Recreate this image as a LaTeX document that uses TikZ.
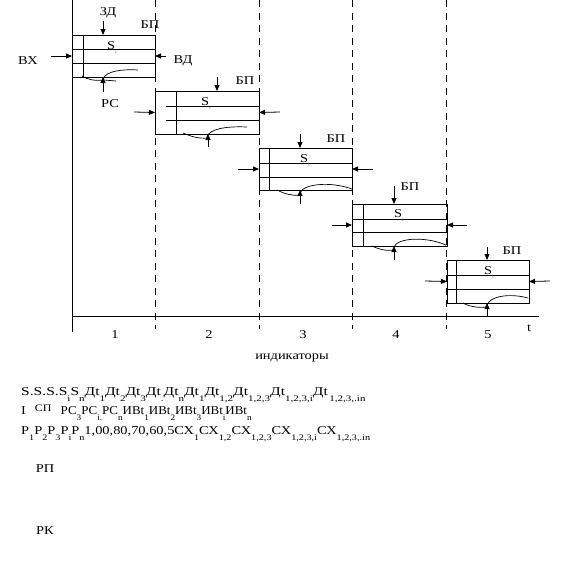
\documentclass[tikz,border=0pt]{standalone}
\usepackage{fontspec}
\setmainfont[FakeStretch=1.2]{Liberation Serif}
\usetikzlibrary{arrows.meta,positioning,calc}

\newcommand{\lo}[1]{\raisebox{-6pt}{\fontsize{8.5}{8.5}\selectfont #1}}
\newcommand{\Si}{S\raisebox{-4pt}{\textcolor{gray}{\fontsize{5}{5}\selectfont i}}}

\begin{document}
\begin{tikzpicture}[x=1pt, y=-1pt,
    lbl/.style={font=\fontsize{12}{13}\selectfont, inner sep=0pt},
    box/.style={draw, line width=0.8pt, anchor=north west, inner sep=0pt, outer sep=0pt},
    arr/.style={-{Triangle[length=6pt,width=5pt]}, line width=0.8pt},
    divider/.style={dash pattern=on 7pt off 5.5pt, line width=0.8pt},
    txt/.style={font=\fontsize{12}{13}\selectfont, inner sep=0pt, anchor=base west}
]
\useasboundingbox (0,0) rectangle (561,565);

% time axis and stage borders
\draw[line width=0.8pt] (72,0) -- (72,332);
\draw[line width=0.8pt] (72,316) -- (539,316);
\draw[divider] (155,0) -- (155,329);
\draw[divider] (259,0) -- (259,329);
\draw[divider] (352,0) -- (352,329);
\draw[divider] (446,0) -- (446,329);

% stage boxes
\node[box, minimum width=83pt, minimum height=42pt] (box1) at (72,35) {};
\node[box, minimum width=104pt, minimum height=43pt, below right=14pt and 0pt of box1] (box2) {};
\node[box, minimum width=93pt, minimum height=42pt, below right=14pt and 0pt of box2] (box3) {};
\node[box, minimum width=95pt, minimum height=42pt, below right=14pt and 0pt of box3] (box4) {};
\node[box, minimum width=82pt, minimum height=43pt, below right=14pt and 0pt of box4] (box5) {};

% rows inside the boxes
\draw[line width=0.8pt] ($(box1.north west)+(0,14)$) -- ($(box1.north east)+(0,14)$);
\draw[line width=0.8pt] ($(box1.north west)+(0,28)$) -- ($(box1.north east)+(0,28)$);
\draw[line width=0.8pt] ($(box1.north west)+(11,0)$) -- ($(box1.south west)+(11,0)$);
\draw[line width=0.8pt] ($(box2.north west)+(11,15)$) -- ($(box2.north east)+(0,15)$);
\draw[line width=0.8pt] ($(box2.north west)+(11,29)$) -- ($(box2.north east)+(0,29)$);
\draw[line width=0.8pt] ($(box2.north west)+(21,0)$) -- ($(box2.south west)+(21,0)$);
\draw[line width=0.8pt] ($(box3.north west)+(0,15)$) -- ($(box3.north east)+(0,15)$);
\draw[line width=0.8pt] ($(box3.north west)+(0,29)$) -- ($(box3.north east)+(0,29)$);
\draw[line width=0.8pt] ($(box3.north west)+(10,0)$) -- ($(box3.south west)+(10,0)$);
\draw[line width=0.8pt] ($(box4.north west)+(0,15)$) -- ($(box4.north east)+(0,15)$);
\draw[line width=0.8pt] ($(box4.north west)+(0,28)$) -- ($(box4.north east)+(0,28)$);
\draw[line width=0.8pt] ($(box4.north west)+(11,0)$) -- ($(box4.south west)+(11,0)$);
\draw[line width=0.8pt] ($(box5.north west)+(0,15)$) -- ($(box5.north east)+(0,15)$);
\draw[line width=0.8pt] ($(box5.north west)+(0,29)$) -- ($(box5.north east)+(0,29)$);
\draw[line width=0.8pt] ($(box5.north west)+(9,0)$) -- ($(box5.south west)+(9,0)$);

\node[lbl, anchor=base west] (s1) at ($(box1.north west)+(35,14)$) {\Si};
\node[lbl, anchor=base west] (s2) at ($(box2.north west)+(46,14)$) {\Si};
\node[lbl, anchor=base west] (s3) at ($(box3.north west)+(41,14)$) {\Si};
\node[lbl, anchor=base west] (s4) at ($(box4.north west)+(42,13)$) {\Si};
\node[lbl, anchor=base west] (s5) at ($(box5.north west)+(37,14)$) {\Si};

% curves at the bottom of the boxes
\draw[line width=0.7pt] (82,76) .. controls (88,80) and (96,81) .. (104,80) -- (116,81);
\draw[line width=0.7pt] (103,79) .. controls (106,71) and (122,69) .. (138,70);
\draw[line width=0.7pt] (183,133) .. controls (190,136) and (198,139) .. (208,138);
\draw[line width=0.7pt] (207,137) .. controls (209,129) and (226,126) .. (247,127);
\draw[line width=0.7pt] (277,190) .. controls (285,194) and (292,196) .. (300,195);
\draw[line width=0.7pt] (300,193) .. controls (303,184) and (330,181) .. (352,189);
\draw[line width=0.7pt] (372,246) .. controls (380,250) and (388,251) .. (394,250);
\draw[line width=0.7pt] (394,247) .. controls (397,238) and (425,236) .. (446,245);
\draw[line width=0.7pt] (463,303) .. controls (470,307) and (480,308) .. (487,307);
\draw[line width=0.7pt] (487,305) .. controls (490,296) and (510,293) .. (528,298);

% arrows into the boxes
\coordinate (zd1) at (103,21);
\coordinate (zd2) at (217,77);
\coordinate (zd3) at (300,134);
\coordinate (zd4) at (394,186);
\coordinate (zd5) at (487,247);
\coordinate (rs1) at (103,92);
\coordinate (rs2) at (208,147);
\coordinate (rs3) at (300,204);
\coordinate (rs4) at (394,260);
\coordinate (rs5) at (487,316);
\coordinate (in1) at (51,56);
\coordinate (in2) at (134,112);
\coordinate (in3) at (238,169);
\coordinate (in4) at (332,225);
\coordinate (in5) at (425,281);
\coordinate (out1) at (166,56);
\coordinate (out2) at (280,112);
\coordinate (out3) at (373,169);
\coordinate (out4) at (467,225);
\coordinate (out5) at (550,281);

\draw[arr] (zd1) -- (zd1 |- box1.north);
\draw[arr] (zd2) -- (zd2 |- box2.north);
\draw[arr] (zd3) -- (zd3 |- box3.north);
\draw[arr] (zd4) -- (zd4 |- box4.north);
\draw[arr] (zd5) -- (zd5 |- box5.north);
\draw[arr] (rs1) -- (rs1 |- box1.south);
\draw[arr] (rs2) -- (rs2 |- box2.south);
\draw[arr] (rs3) -- (rs3 |- box3.south);
\draw[arr] (rs4) -- (rs4 |- box4.south);
\draw[arr] (rs5) -- (rs5 |- box5.south);
\draw[arr] (in1) -- (box1.west);
\draw[arr] (in2) -- (box2.west);
\draw[arr] (in3) -- (box3.west);
\draw[arr] (in4) -- (box4.west);
\draw[arr] (in5) -- (box5.west);
\draw[arr] (out1) -- (box1.east);
\draw[arr] (out2) -- (box2.east);
\draw[arr] (out3) -- (box3.east);
\draw[arr] (out4) -- (box4.east);
\draw[arr] (out5) -- (box5.east);

% labels
\node[lbl] (zd) at (108,13) {ЗД};
\node[lbl] (vx) at (28,61) {ВХ};
\node[lbl] (vd) at (183,61) {ВД};
\node[lbl] (rs) at (110,104) {РС};
\node[lbl] (bp1) at (150,25) {БП};
\node[lbl] (bp2) at (245,81) {БП};
\node[lbl] (bp3) at (336,139) {БП};
\node[lbl] (bp4) at (410,187) {БП};
\node[lbl] (bp5) at (512,251) {БП};

\node[lbl] (n1) at (115,335) {1};
\node[lbl] (n2) at (209,335) {2};
\node[lbl] (n3) at (303,335) {3};
\node[lbl] (n4) at (396,335) {4};
\node[lbl] (n5) at (488,335) {5};
\node[lbl] (t) at (529,328) {t};
\node[lbl] (ind) at (292,358) {индикаторы};

% text under the diagram
\node[txt] (lineA) at (21,395) {\scalebox{1.08}[1]{S.S.S.S\lo{i}S\lo{n}Дt\lo{1}Дt\lo{2}Дt\lo{3}Дt\lo{.}Дt\lo{n}Дt\lo{1}Дt\lo{1,2}Дt\lo{1,2,3}Дt\lo{1,2,3,i}Дt\lo{\,1,2,3,.in}}};
\node[txt] (lineB) at (21,414) {I\hspace{9pt}\raisebox{3pt}{\fontsize{10}{10}\selectfont СП}\hspace{9pt}\scalebox{0.9}[1]{РС\lo{3}РС\lo{i.}РС\lo{n}ИВt\lo{1}ИВt\lo{2}ИВt\lo{3}ИВt\lo{i}ИВt\lo{n}}};
\node[txt] (lineC) at (21,434) {Р\lo{1}Р\lo{2}Р\lo{3}Р\lo{i}Р\lo{n}1,00,80,70,60,5СХ\lo{1}СХ\lo{1,2}СХ\lo{1,2,3}СХ\lo{1,2,3,i}СХ\lo{1,2,3,.in}};
\node[lbl] (rp) at (45,469) {РП};
\node[lbl] (rk) at (45,531) {РК};
\end{tikzpicture}
\end{document}
